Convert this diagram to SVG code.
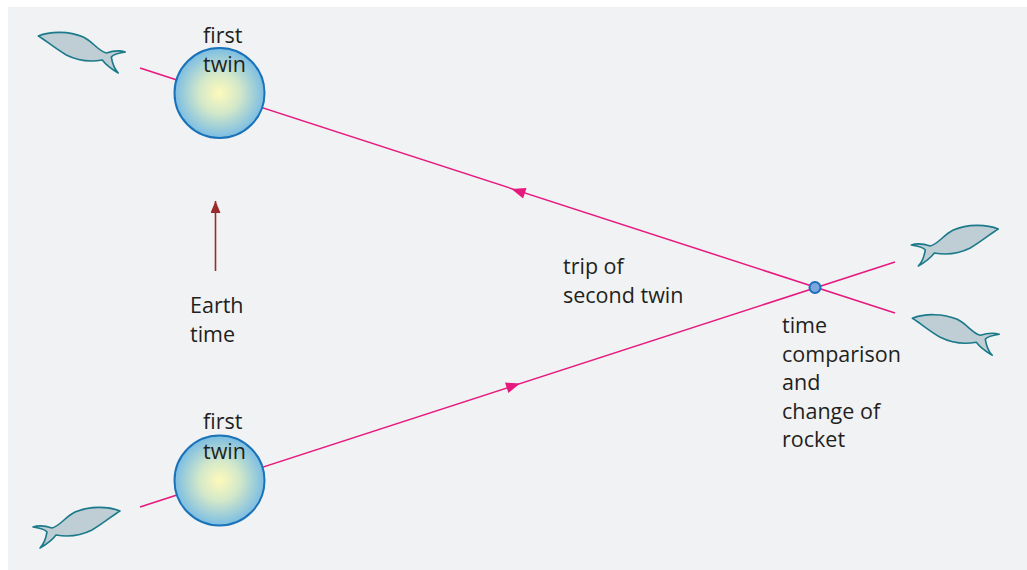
<svg xmlns="http://www.w3.org/2000/svg" xmlns:xlink="http://www.w3.org/1999/xlink" width="1027" height="570" viewBox="0 0 1027 570">
<style>
.lbl{font-family:"Open Sans","Liberation Sans",sans-serif;font-size:21.5px;fill:#231f20}
.path{stroke:#e6197f;stroke-width:1.5;fill:none}
.fish{fill:#bfcdd4;stroke:#1b7a8a;stroke-width:1.6;stroke-linejoin:round}
.earth{fill:url(#eg);stroke:#1a72b8;stroke-width:2}
</style>
<defs>
<radialGradient id="eg" cx="0.5" cy="0.5" r="0.5">
<stop offset="0" stop-color="#fefabb"/>
<stop offset="0.45" stop-color="#d3e8c9"/>
<stop offset="1" stop-color="#7bbde3"/>
</radialGradient>
<path id="fishA" class="fish" d="M0,0 C12,-5 31,-5 45,1 C55,6 60,15 68,17 C74,15 81,14 87,16 C80,17 75,18 73,21 C74,27 76,33 80,37 C73,33 67,28 64,24 C53,26 40,25 28,19 C16,12 7,4 0,0 Z"/>
<marker id="ah" viewBox="0 0 12 10" refX="12" refY="5" markerWidth="12" markerHeight="10" markerUnits="userSpaceOnUse" orient="auto">
<path d="M0,0 L12,5 L0,10 Z" fill="#9b2a2a"/>
</marker>
</defs>
<rect x="8" y="7" width="1019" height="563" fill="#f1f2f4"/>
<g id="connectors">
<line class="path" x1="140" y1="68" x2="895" y2="313"/>
<line class="path" x1="140" y1="507" x2="895" y2="262"/>
<path d="M511.5,189 L526.5,188.1 L523.1,198.5 Z" fill="#e6197f"/>
<path d="M520,383.5 L505,382.6 L508.4,393.1 Z" fill="#e6197f"/>
<line x1="215.5" y1="271" x2="215.5" y2="201" stroke="#9b2a2a" stroke-width="1.6" marker-end="url(#ah)"/>
</g>
<g id="earth-top">
<circle class="earth" cx="219.5" cy="93" r="45"/>
<text class="lbl" x="203" y="43">first</text>
<text class="lbl" x="203" y="72">twin</text>
</g>
<g id="earth-bottom">
<circle class="earth" cx="219.5" cy="480.5" r="45"/>
<text class="lbl" x="203" y="429">first</text>
<text class="lbl" x="203" y="459">twin</text>
</g>
<g id="rocket-top-left"><use xlink:href="#fishA" transform="translate(38.3,36)"/></g>
<g id="rocket-bottom-right"><use xlink:href="#fishA" transform="translate(912.3,318.3)"/></g>
<g id="rocket-bottom-left"><use xlink:href="#fishA" transform="translate(120,511) scale(-1,1)"/></g>
<g id="rocket-top-right"><use xlink:href="#fishA" transform="translate(998.3,229) scale(-1,1)"/></g>
<g id="turnaround">
<circle cx="815" cy="287.5" r="5.5" fill="#7ba7dc" stroke="#1a6fba" stroke-width="2"/>
<text class="lbl" x="782" y="333">time</text>
<text class="lbl" x="782" y="361.5">comparison</text>
<text class="lbl" x="782" y="390">and</text>
<text class="lbl" x="782" y="418.5">change of</text>
<text class="lbl" x="782" y="447">rocket</text>
</g>
<g id="earth-time">
<text class="lbl" x="190" y="313">Earth</text>
<text class="lbl" x="190" y="341.5">time</text>
</g>
<g id="trip-label">
<text class="lbl" x="563" y="274">trip of</text>
<text class="lbl" x="563" y="303">second twin</text>
</g>
</svg>
